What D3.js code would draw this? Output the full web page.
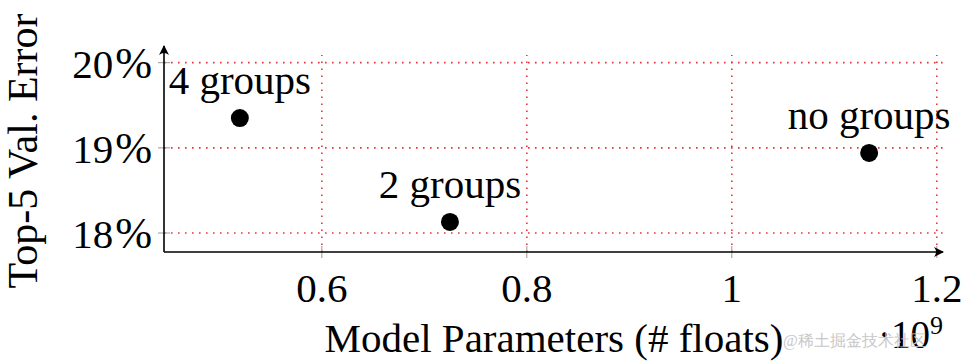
<!DOCTYPE html>
<html>
<head>
<meta charset="utf-8">
<script src="https://cdn.jsdelivr.net/npm/d3@7"></script>
<style>
  body { margin: 0; background: #fff; }
  text { font-family: "Liberation Serif", "DejaVu Serif", serif; fill: #000; }
</style>
</head>
<body>
<div id="chart"></div>
<script>
// data
const labels = ["4 groups", "2 groups", "no groups"];
const params = [0.52, 0.725, 1.134];      // x 10^9 floats
const errors = [19.35, 18.13, 18.94];     // top-5 val error, %
const xTicks = [0.6, 0.8, 1, 1.2];
const yTicks = [18, 19, 20];

const W = 965, H = 362;
const margin = { left: 164, right: 20, top: 55, bottom: 110 };
const FS = 41;

const svg = d3.select("#chart").append("svg")
  .attr("width", W).attr("height", H);

const x = d3.scaleLinear().domain([0.446, 1.208]).range([margin.left, W - margin.right]);
const y = d3.scaleLinear().domain([17.777, 20.09]).range([H - margin.bottom, margin.top]);

const x0 = x.range()[0], x1 = x.range()[1];
const yb = y.range()[0], yt = y.range()[1];

// arrow marker
svg.append("defs").append("marker")
  .attr("id", "arr")
  .attr("viewBox", "0 0 10 10")
  .attr("refX", 9).attr("refY", 5)
  .attr("markerWidth", 10).attr("markerHeight", 10)
  .attr("markerUnits", "userSpaceOnUse")
  .attr("orient", "auto")
  .append("path")
  .attr("d", "M0,0 Q4,5 0,10 L10,5 Z")
  .attr("fill", "#000");

// grid
const grid = svg.append("g")
  .attr("stroke", "#e8343b")
  .attr("stroke-width", 1.6)
  .attr("stroke-dasharray", "1.6 5.4")
  .attr("fill", "none");

grid.selectAll(".gx").data(xTicks).join("line")
  .attr("x1", d => x(d)).attr("x2", d => x(d))
  .attr("y1", yb).attr("y2", yt);

grid.selectAll(".gy").data(yTicks).join("line")
  .attr("x1", x0).attr("x2", x1)
  .attr("y1", d => y(d)).attr("y2", d => y(d));

// tick marks
const ticks = svg.append("g").attr("stroke", "#999").attr("stroke-width", 1);
ticks.selectAll(".tx").data(xTicks).join("line")
  .attr("x1", d => x(d)).attr("x2", d => x(d))
  .attr("y1", yb - 6).attr("y2", yb + 6);
ticks.selectAll(".ty").data(yTicks).join("line")
  .attr("x1", x0 - 6).attr("x2", x0 + 6)
  .attr("y1", d => y(d)).attr("y2", d => y(d));

// axis lines with arrows
svg.append("line")
  .attr("x1", x0).attr("y1", yb).attr("x2", x0).attr("y2", yt - 9)
  .attr("stroke", "#000").attr("stroke-width", 1.6)
  .attr("marker-end", "url(#arr)");
svg.append("line")
  .attr("x1", x0).attr("y1", yb).attr("x2", x1 - 2).attr("y2", yb)
  .attr("stroke", "#000").attr("stroke-width", 1.6)
  .attr("marker-end", "url(#arr)");

// tick labels
const fmtX = d3.format("~g");
svg.selectAll(".xl").data(xTicks).join("text")
  .attr("x", d => x(d)).attr("y", yb + 50)
  .attr("text-anchor", "middle")
  .attr("font-size", FS)
  .text(d => fmtX(d));

const yl = svg.selectAll(".yl").data(yTicks).join("text")
  .attr("x", x0 - 12).attr("y", d => y(d) + 15)
  .attr("text-anchor", "end")
  .attr("font-size", FS);
yl.append("tspan").text(d => d);
yl.append("tspan").attr("dx", 2).attr("font-size", FS * 1.08).text("%");

// axis titles
svg.append("text")
  .attr("x", 554).attr("y", 352)
  .attr("text-anchor", "middle")
  .attr("font-size", FS)
  .text("Model Parameters (# floats)");

svg.append("text")
  .attr("transform", "translate(37,151) rotate(-90)")
  .attr("text-anchor", "middle")
  .attr("font-size", FS + 1)
  .text("Top-5 Val. Error");

// 10^9 multiplier
const mult = svg.append("text").attr("x", 878).attr("y", 348).attr("font-size", FS - 2);
mult.append("tspan").text("·10");
mult.append("tspan").attr("font-size", 26).attr("dy", -14).text("9");

// points
svg.selectAll(".pt").data(params).join("circle")
  .attr("cx", d => x(d))
  .attr("cy", (d, i) => y(errors[i]))
  .attr("r", 9)
  .attr("fill", "#000");

svg.selectAll(".pl").data(labels).join("text")
  .attr("x", (d, i) => x(params[i]))
  .attr("y", (d, i) => y(errors[i]) - 24)
  .attr("text-anchor", "middle")
  .attr("font-size", FS)
  .text(d => d);

// watermark
svg.append("text")
  .attr("x", 783).attr("y", 346)
  .attr("font-family", "Noto Sans CJK SC")
  .attr("font-size", 16)
  .style("fill", "#c8c8c8")
  .text("@稀土掘金技术社区");
</script>
</body>
</html>
